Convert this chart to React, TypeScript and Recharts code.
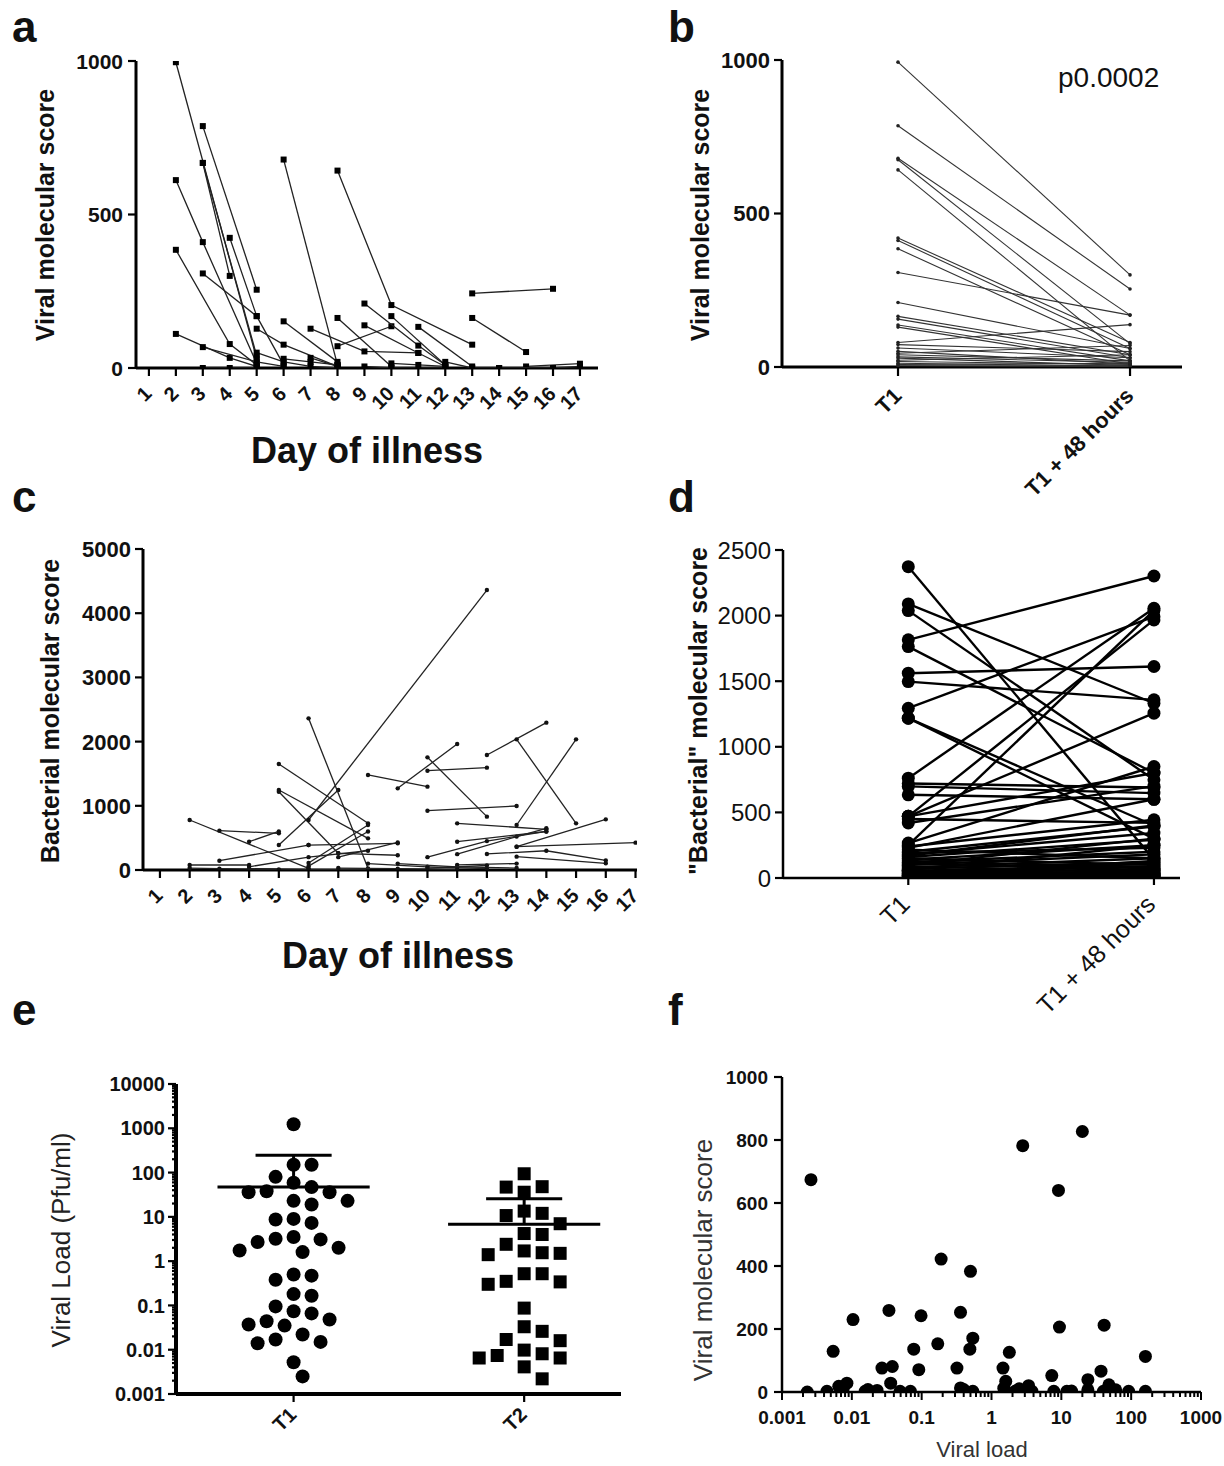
import React from 'react';
import { ScatterChart, Scatter, XAxis, YAxis, ReferenceLine } from 'recharts';

const FONT = '"Liberation Sans", Arial, Helvetica, sans-serif';

// ---------------- Panel a : viral score by day of illness ----------------
const aDayTicks = [1, 2, 3, 4, 5, 6, 7, 8, 9, 10, 11, 12, 13, 14, 15, 16, 17];
const aYTicks = [0, 500, 1000];
const aPatients: [number, number][][] = [
  [[2, 996], [5, 30]],
  [[2, 612], [3, 410], [5, 15]],
  [[2, 385], [4, 78], [5, 10]],
  [[2, 111], [4, 33], [5, 5]],
  [[3, 788], [5, 255]],
  [[3, 668], [4, 300]],
  [[3, 668], [5, 40]],
  [[4, 424], [5, 169], [6, 10]],
  [[3, 308], [5, 169]],
  [[3, 68], [5, 20], [6, 5]],
  [[5, 128], [6, 76], [8, 5]],
  [[6, 679], [8, 10]],
  [[6, 152], [8, 20]],
  [[7, 128], [9, 54], [11, 49]],
  [[8, 643], [10, 205], [13, 76]],
  [[8, 163], [10, 5]],
  [[8, 71], [10, 136]],
  [[9, 210], [11, 73], [12, 10]],
  [[9, 139], [11, 49], [12, 5]],
  [[10, 169], [12, 10]],
  [[11, 134], [13, 5]],
  [[13, 243], [16, 258]],
  [[13, 163], [15, 52]],
  [[15, 5], [17, 14]],
  [[7, 33], [8, 5]],
  [[3, 0], [4, 0], [5, 0]],
  [[5, 50], [6, 20], [7, 5], [8, 0]],
  [[6, 30], [7, 20], [8, 10]],
  [[9, 5], [10, 0], [12, 0]],
  [[10, 15], [11, 10], [12, 5]],
  [[12, 20], [13, 0], [14, 0]],
  [[14, 0], [16, 0], [17, 5]],
];

// ---------------- Panel b : viral score T1 vs T1+48h ----------------
const bYTicks = [0, 500, 1000];
const bTimeLabels = ['T1', 'T1 + 48 hours'];
const bT1 = [993, 786, 680, 675, 642, 420, 412, 385, 308, 210, 165, 156, 137, 130, 80, 73, 62, 51, 45, 40, 33, 29, 22, 18, 12, 8, 4];
const bT2 = [300, 254, 169, 76, 20, 80, 60, 40, 169, 60, 40, 30, 20, 10, 138, 50, 30, 10, 70, 20, 15, 5, 40, 8, 3, 12, 2];
const bPValue = 'p0.0002';

// ---------------- Panel c : bacterial score by day of illness ----------------
const cYTicks = [0, 1000, 2000, 3000, 4000, 5000];
const cPatients: [number, number][][] = [
  [[2, 779], [6, 26]],
  [[3, 613], [5, 571]],
  [[4, 441], [5, 600]],
  [[5, 389], [7, 1246]],
  [[5, 1651], [8, 727]],
  [[5, 1246], [8, 493]],
  [[5, 1220], [7, 260]],
  [[6, 2362], [8, 26]],
  [[6, 779], [12, 4361]],
  [[8, 1480], [10, 1298]],
  [[9, 1272], [11, 1963]],
  [[10, 1755], [12, 831]],
  [[10, 1547], [12, 1594]],
  [[10, 924], [13, 997]],
  [[12, 1791], [14, 2295]],
  [[13, 2035], [15, 727]],
  [[13, 701], [15, 2035]],
  [[11, 727], [14, 634]],
  [[11, 441], [14, 600]],
  [[13, 363], [16, 789]],
  [[13, 363], [17, 426]],
  [[13, 208], [16, 104]],
  [[11, 247], [13, 520], [14, 650]],
  [[2, 78], [4, 78]],
  [[3, 145], [6, 389]],
  [[6, 389], [9, 415]],
  [[7, 260], [9, 230]],
  [[6, 110], [8, 700]],
  [[6, 60], [8, 600]],
  [[7, 200], [9, 430]],
  [[4, 50], [6, 200], [8, 300]],
  [[8, 100], [10, 50], [12, 20]],
  [[9, 100], [11, 50], [13, 30]],
  [[10, 200], [12, 450], [14, 600]],
  [[12, 250], [14, 300], [16, 150]],
  [[4, 20], [6, 10], [8, 5]],
  [[2, 30], [3, 20], [5, 10]],
  [[7, 30], [9, 20], [11, 10]],
  [[11, 80], [13, 100]],
  [[10, 30], [12, 70]],
];

// ---------------- Panel d : "bacterial" score T1 vs T1+48h ----------------
const dYTicks = [0, 500, 1000, 1500, 2000, 2500];
const dT1 = [2373, 2089, 2038, 1815, 1764, 1561, 1497, 1294, 1218, 1218, 761, 720, 698, 634, 470, 470, 470, 450, 419, 266, 240, 216, 200, 180, 160, 150, 140, 130, 120, 110, 100, 90, 80, 70, 60, 55, 50, 45, 40, 35, 30, 25, 20, 15, 10, 5, 250, 230, 190, 170, 100, 60, 20];
const dT2 = [140, 1332, 749, 2302, 800, 1612, 1358, 1992, 300, 400, 2056, 690, 647, 600, 1967, 1256, 800, 420, 700, 850, 444, 150, 393, 343, 292, 100, 250, 80, 200, 60, 180, 40, 150, 120, 30, 90, 60, 20, 110, 70, 25, 50, 10, 35, 15, 5, 2040, 600, 230, 400, 300, 250, 130];

// ---------------- Panel e : viral load T1 / T2 ----------------
const eGroups = ['T1', 'T2'];
const eT1 = [1230, 150, 150, 80, 59, 47, 38, 36, 36, 23, 23, 19, 9, 8.7, 7.3, 3.5, 3.2, 3.1, 2.7, 2, 1.74, 1.6, 0.5, 0.47, 0.38, 0.18, 0.166, 0.095, 0.074, 0.066, 0.048, 0.044, 0.037, 0.035, 0.022, 0.017, 0.015, 0.014, 0.0052, 0.0025];
const eT2 = [94, 48, 47, 36, 13.5, 12, 10.7, 7, 4.2, 4, 2.4, 1.7, 1.55, 1.5, 1.4, 0.52, 0.52, 0.35, 0.34, 0.3, 0.087, 0.033, 0.026, 0.017, 0.016, 0.0098, 0.0081, 0.0074, 0.0065, 0.0065, 0.0041, 0.0022];
const eMean = [47, 6.8];
const eUpperSD = [245, 25.7];

// ---------------- Panel f : viral score vs viral load ----------------
const fYTicks = [0, 200, 400, 600, 800, 1000];
const fViralLoad = [0.0026, 0.0054, 0.0104, 0.0044, 0.0023, 0.0065, 0.0085, 0.0155, 0.023, 0.027, 0.034, 0.038, 0.036, 0.049, 0.069, 0.077, 0.091, 0.098, 0.17, 0.19, 0.32, 0.36, 0.36, 0.5, 0.49, 0.54, 0.54, 1.46, 1.6, 1.8, 1.6, 2.8, 3.4, 3.8, 7.3, 9.1, 9.4, 7.8, 12, 20, 24, 24, 37, 41, 48, 55, 40, 92, 160, 160, 60, 0.0075, 0.4, 2.2, 2.5, 14, 0.017, 1.5];
const fScore = [674, 129, 230, 2, 0, 18, 28, 2, 5, 76, 259, 81, 28, 2, 2, 136, 71, 242, 153, 422, 76, 253, 13, 383, 136, 171, 2, 76, 34, 126, 2, 782, 20, 2, 52, 640, 206, 2, 2, 827, 39, 7, 66, 212, 23, 2, 2, 2, 113, 2, 7, 10, 8, 3, 10, 3, 8, 12];

// ---------------- helpers ----------------
type Box = { l: number; t: number; r: number; b: number };

function logTicks(lo: number, hi: number): number[] {
  const out: number[] = [];
  for (let e = lo; e <= hi; e++) {
    for (let m = 1; m < 10; m++) {
      if (e === hi && m > 1) break;
      out.push(parseFloat((m * Math.pow(10, e)).toPrecision(6)));
    }
  }
  return out;
}
const isDecade = (v: number) => Math.abs(Math.log10(v) - Math.round(Math.log10(v))) < 1e-6;
const fmtDecade = (v: number) => {
  const e = Math.round(Math.log10(v));
  return e >= 0 ? String(Math.pow(10, e)) : Math.pow(10, e).toFixed(-e);
};

function swarmOffsets(values: number[], pxPerUnit: number, pxPerDecade: number, dist: number, step: number): number[] {
  const idx = values.map((_, i) => i).sort((a, b) => values[b] - values[a]);
  const placed: { x: number; y: number }[] = [];
  const out = new Array(values.length).fill(0);
  for (const i of idx) {
    const py = Math.log10(values[i]) * pxPerDecade;
    let px = 0;
    for (let k = 0; k < 80; k++) {
      const c = k === 0 ? 0 : (k % 2 ? 1 : -1) * Math.ceil(k / 2) * step;
      if (placed.every((p) => Math.hypot(p.x - c, p.y - py) >= dist)) {
        px = c;
        break;
      }
    }
    placed.push({ x: px, y: py });
    out[i] = px / pxPerUnit;
  }
  return out;
}

type TickOpts = {
  font: number;
  bold?: boolean;
  len: number;
  minor?: number;
  gap?: number;
  fmt?: (v: number) => string;
  major?: (v: number) => boolean;
  width?: number;
};

function leftTick(o: TickOpts) {
  return (props: any) => {
    const { x, y, payload } = props;
    const v = payload.value as number;
    const maj = o.major ? o.major(v) : true;
    const len = maj ? o.len : o.minor ?? 4;
    return (
      <g>
        <line x1={x} y1={y} x2={x - len} y2={y} stroke="#000" strokeWidth={o.width ?? 2.2} />
        {maj && (
          <text x={x - o.len - (o.gap ?? 4)} y={y} dy="0.36em" textAnchor="end" fontFamily={FONT} fontSize={o.font} fontWeight={o.bold ? 700 : 400} fill="#111">
            {o.fmt ? o.fmt(v) : String(v)}
          </text>
        )}
      </g>
    );
  };
}

function bottomTick(o: TickOpts) {
  return (props: any) => {
    const { x, y, payload } = props;
    const v = payload.value as number;
    const maj = o.major ? o.major(v) : true;
    const len = maj ? o.len : o.minor ?? 4;
    return (
      <g>
        <line x1={x} y1={y} x2={x} y2={y + len} stroke="#000" strokeWidth={o.width ?? 2} />
        {maj && (
          <text x={x} y={y + (o.gap ?? 30)} textAnchor="middle" fontFamily={FONT} fontSize={o.font} fontWeight={o.bold ? 700 : 400} fill="#111">
            {o.fmt ? o.fmt(v) : String(v)}
          </text>
        )}
      </g>
    );
  };
}

function rotTick(o: { font: number; bold?: boolean; len: number; dx: number; dy: number; label: (v: number) => string; width?: number }) {
  return (props: any) => {
    const { x, y, payload } = props;
    const v = payload.value as number;
    const ax = x + o.dx;
    const ay = y + o.dy;
    return (
      <g>
        <line x1={x} y1={y} x2={x} y2={y + o.len} stroke="#000" strokeWidth={o.width ?? 2.2} />
        <text x={ax} y={ay} textAnchor="end" transform={`rotate(-45 ${ax} ${ay})`} fontFamily={FONT} fontSize={o.font} fontWeight={o.bold ? 700 : 400} fill="#111">
          {o.label(v)}
        </text>
      </g>
    );
  };
}

function Panel({ box, yw, xh, mr = 14, mt = 14, children }: { box: Box; yw: number; xh: number; mr?: number; mt?: number; children: React.ReactNode }) {
  const left = box.l - yw;
  const top = box.t - mt;
  const width = box.r + mr - left;
  const height = box.b + xh - top;
  return (
    <div style={{ position: 'absolute', left, top, width, height }}>
      <ScatterChart width={width} height={height} margin={{ top: mt, right: mr, left: 0, bottom: 0 }} style={{ overflow: 'visible' }}>
        {children}
      </ScatterChart>
    </div>
  );
}

const squareShape = (s: number, fill: string) => (p: any) => <rect x={p.cx - s / 2} y={p.cy - s / 2} width={s} height={s} fill={fill} />;
const dotShape = (r: number, fill: string) => (p: any) => <circle cx={p.cx} cy={p.cy} r={r} fill={fill} />;

const axisStyle = (w: number) => ({ stroke: '#000', strokeWidth: w });

const toPts = (arr: [number, number][]) => arr.map(([x, y]) => ({ x, y }));

// swarm for panel e (px per category unit and per decade match the plot box below)
const E_PX_UNIT = 230.7;
const E_PX_DECADE = 44.3;
const eOff1 = swarmOffsets(eT1, E_PX_UNIT, E_PX_DECADE, 16.5, 9);
const eOff2 = swarmOffsets(eT2, E_PX_UNIT, E_PX_DECADE, 16.5, 9);
const ePts1 = eT1.map((v, i) => ({ x: 1 + eOff1[i], y: v }));
const ePts2 = eT2.map((v, i) => ({ x: 2 + eOff2[i], y: v }));

const fPts = fViralLoad.map((v, i) => ({ x: v, y: fScore[i] }));

function Title({ x, y, size, bold, rotate, anchor = 'middle', color = '#111', children }: { x: number; y: number; size: number; bold?: boolean; rotate?: boolean; anchor?: string; color?: string; children: React.ReactNode }) {
  return (
    <text
      x={rotate ? 0 : x}
      y={rotate ? 0 : y}
      transform={rotate ? `translate(${x},${y}) rotate(-90)` : undefined}
      dy={rotate ? '0.35em' : undefined}
      textAnchor={anchor as any}
      fontFamily={FONT}
      fontSize={size}
      fontWeight={bold ? 700 : 400}
      fill={color}
    >
      {children}
    </text>
  );
}

export default function App() {
  return (
    <div style={{ position: 'absolute', left: 0, top: 0, width: 1224, height: 1466, background: '#fff', overflow: 'hidden' }}>
      {/* Panel a */}
      <Panel box={{ l: 136, t: 61, r: 598, b: 368 }} yw={100} xh={60}>
        <XAxis type="number" dataKey="x" height={60} domain={[0.52, 17.67]} allowDataOverflow ticks={aDayTicks} interval={0} tickSize={0} tickMargin={0} tickLine={false} axisLine={axisStyle(3)}
          tick={rotTick({ font: 20, bold: true, len: 8, dx: 4, dy: 27, label: (v) => String(v) })} />
        <YAxis type="number" dataKey="y" domain={[0, 1000]} allowDataOverflow ticks={aYTicks} interval={0} width={100} tickSize={0} tickMargin={0} tickLine={false} axisLine={axisStyle(3)}
          tick={leftTick({ font: 21, bold: true, len: 8, gap: 5 })} />
        {aPatients.map((p, i) => (
          <Scatter key={i} data={toPts(p)} line={{ stroke: '#222', strokeWidth: 1.3 }} shape={squareShape(6, '#000')} isAnimationActive={false} />
        ))}
      </Panel>

      {/* Panel b */}
      <Panel box={{ l: 782, t: 60, r: 1182, b: 367 }} yw={100} xh={150}>
        <XAxis type="number" dataKey="x" height={150} domain={[0.5, 2.224]} allowDataOverflow ticks={[1, 2]} interval={0} tickSize={0} tickMargin={0} tickLine={false} axisLine={axisStyle(3)}
          tick={rotTick({ font: 22, bold: true, len: 9, dx: 5, dy: 30, label: (v) => bTimeLabels[v - 1] })} />
        <YAxis type="number" dataKey="y" domain={[0, 1000]} allowDataOverflow ticks={bYTicks} interval={0} width={100} tickSize={0} tickMargin={0} tickLine={false} axisLine={axisStyle(3)}
          tick={leftTick({ font: 22, bold: true, len: 8, gap: 4 })} />
        {bT1.map((v, i) => (
          <Scatter key={i} data={[{ x: 1, y: v }, { x: 2, y: bT2[i] }]} line={{ stroke: '#333', strokeWidth: 1.1 }} shape={dotShape(1.8, '#222')} isAnimationActive={false} />
        ))}
      </Panel>

      {/* Panel c */}
      <Panel box={{ l: 143, t: 549, r: 637, b: 870 }} yw={100} xh={60}>
        <XAxis type="number" dataKey="x" height={60} domain={[0.43, 17.05]} allowDataOverflow ticks={aDayTicks} interval={0} tickSize={0} tickMargin={0} tickLine={false} axisLine={axisStyle(3)}
          tick={rotTick({ font: 20, bold: true, len: 8, dx: 4, dy: 27, label: (v) => String(v) })} />
        <YAxis type="number" dataKey="y" domain={[0, 5000]} allowDataOverflow ticks={cYTicks} interval={0} width={100} tickSize={0} tickMargin={0} tickLine={false} axisLine={axisStyle(3)}
          tick={leftTick({ font: 22, bold: true, len: 8, gap: 4 })} />
        {cPatients.map((p, i) => (
          <Scatter key={i} data={toPts(p)} line={{ stroke: '#222', strokeWidth: 1.3 }} shape={dotShape(2.2, '#111')} isAnimationActive={false} />
        ))}
      </Panel>

      {/* Panel d */}
      <Panel box={{ l: 783, t: 550, r: 1180, b: 878 }} yw={100} xh={155}>
        <XAxis type="number" dataKey="x" height={155} domain={[0.49, 2.106]} allowDataOverflow ticks={[1, 2]} interval={0} tickSize={0} tickMargin={0} tickLine={false} axisLine={axisStyle(2.5)}
          tick={rotTick({ font: 25, len: 7, dx: 3, dy: 28, label: (v) => bTimeLabels[v - 1] })} />
        <YAxis type="number" dataKey="y" domain={[0, 2500]} allowDataOverflow ticks={dYTicks} interval={0} width={100} tickSize={0} tickMargin={0} tickLine={false} axisLine={axisStyle(2.5)}
          tick={leftTick({ font: 24, len: 8, gap: 4 })} />
        {dT1.map((v, i) => (
          <Scatter key={i} data={[{ x: 1, y: v }, { x: 2, y: dT2[i] }]} line={{ stroke: '#000', strokeWidth: 2.4 }} shape={dotShape(6.5, '#000')} isAnimationActive={false} />
        ))}
      </Panel>

      {/* Panel e */}
      <Panel box={{ l: 176, t: 1084, r: 621, b: 1394 }} yw={110} xh={60}>
        <XAxis type="number" dataKey="x" height={60} domain={[0.49, 2.42]} allowDataOverflow ticks={[1, 2]} interval={0} tickSize={0} tickMargin={0} tickLine={false} axisLine={axisStyle(4)}
          tick={rotTick({ font: 20, bold: true, len: 8, dx: 4, dy: 22, label: (v) => eGroups[v - 1] })} />
        <YAxis type="number" dataKey="y" scale="log" domain={[0.001, 10000]} allowDataOverflow ticks={logTicks(-3, 4)} interval={0} width={110} tickSize={0} tickMargin={0} tickLine={false} axisLine={axisStyle(4)}
          tick={leftTick({ font: 20, bold: true, len: 8, minor: 4, gap: 3, major: isDecade, fmt: fmtDecade })} />
        <Scatter data={ePts1} shape={dotShape(7, '#000')} isAnimationActive={false} />
        <Scatter data={ePts2} shape={squareShape(13, '#000')} isAnimationActive={false} />
        {eMean.map((m, i) => (
          <ReferenceLine key={'m' + i} segment={[{ x: i + 1 - 0.33, y: m }, { x: i + 1 + 0.33, y: m }]} stroke="#000" strokeWidth={3} ifOverflow="visible" />
        ))}
        {eMean.map((m, i) => (
          <ReferenceLine key={'v' + i} segment={[{ x: i + 1, y: m }, { x: i + 1, y: eUpperSD[i] }]} stroke="#000" strokeWidth={3} ifOverflow="visible" />
        ))}
        {eUpperSD.map((u, i) => (
          <ReferenceLine key={'c' + i} segment={[{ x: i + 1 - 0.165, y: u }, { x: i + 1 + 0.165, y: u }]} stroke="#000" strokeWidth={3} ifOverflow="visible" />
        ))}
      </Panel>

      {/* Panel f */}
      <Panel box={{ l: 782, t: 1077, r: 1201, b: 1392 }} yw={100} xh={45} mr={23}>
        <XAxis type="number" dataKey="x" height={45} scale="log" domain={[0.001, 1000]} allowDataOverflow ticks={logTicks(-3, 3)} interval={0} tickSize={0} tickMargin={0} tickLine={false} axisLine={axisStyle(2.5)}
          tick={bottomTick({ font: 19, bold: true, len: 8, minor: 5, gap: 32, major: isDecade, fmt: fmtDecade })} />
        <YAxis type="number" dataKey="y" domain={[0, 1000]} allowDataOverflow ticks={fYTicks} interval={0} width={100} tickSize={0} tickMargin={0} tickLine={false} axisLine={axisStyle(2.5)}
          tick={leftTick({ font: 19, bold: true, len: 8, gap: 6 })} />
        <Scatter data={fPts} shape={dotShape(6.5, '#000')} isAnimationActive={false} />
      </Panel>

      {/* titles and panel letters */}
      <svg width={1224} height={1466} style={{ position: 'absolute', left: 0, top: 0, pointerEvents: 'none' }}>
        <Title x={12} y={42} size={44} bold anchor="start">a</Title>
        <Title x={668} y={42} size={44} bold anchor="start">b</Title>
        <Title x={12} y={512} size={44} bold anchor="start">c</Title>
        <Title x={668} y={512} size={44} bold anchor="start">d</Title>
        <Title x={12} y={1025} size={44} bold anchor="start">e</Title>
        <Title x={668} y={1025} size={44} bold anchor="start">f</Title>

        <Title x={45} y={215} size={25} bold rotate>Viral molecular score</Title>
        <Title x={367} y={463} size={36} bold>Day of illness</Title>

        <Title x={700} y={215} size={25} bold rotate>Viral molecular score</Title>
        <Title x={1058} y={87} size={28} anchor="start">{bPValue}</Title>

        <Title x={50} y={711} size={25} bold rotate>Bacterial molecular score</Title>
        <Title x={398} y={968} size={36} bold>Day of illness</Title>

        <Title x={698} y={711} size={25} bold rotate>{'"Bacterial" molecular score'}</Title>

        <Title x={61} y={1240} size={26} rotate color="#222">Viral Load (Pfu/ml)</Title>

        <Title x={703} y={1260} size={26} rotate color="#333">Viral molecular score</Title>
        <Title x={982} y={1457} size={22} color="#333">Viral load</Title>
      </svg>
    </div>
  );
}
